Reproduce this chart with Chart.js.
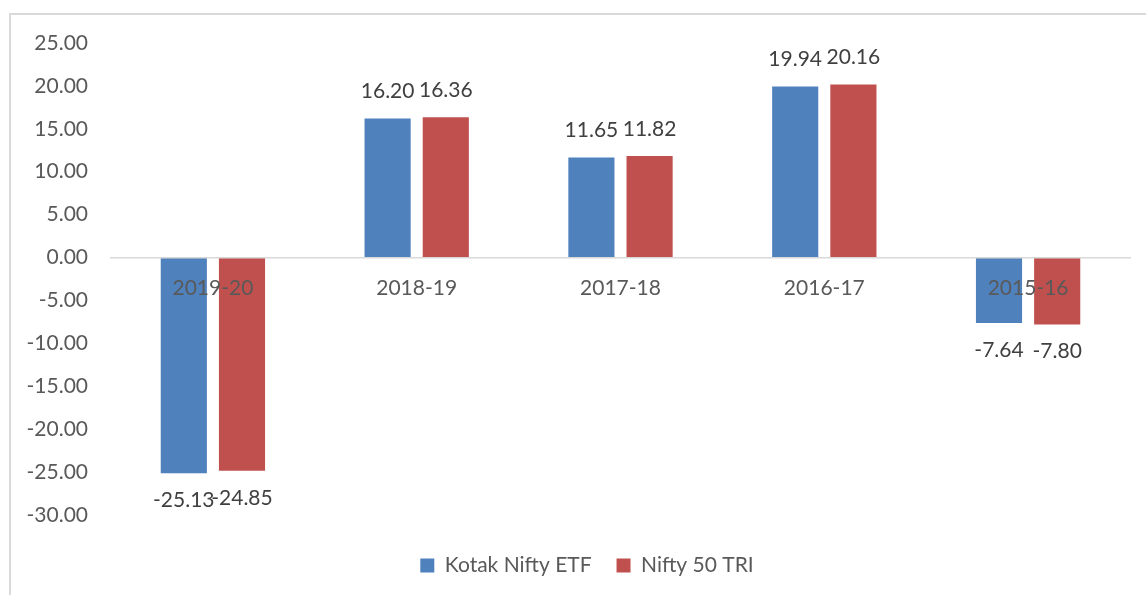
<!DOCTYPE html>
<html>
<head>
<meta charset="utf-8">
<script src="https://cdn.jsdelivr.net/npm/chart.js@4/dist/chart.umd.min.js"></script>
<style>
  html, body { margin: 0; padding: 0; background: #fff; }
  #wrap { width: 1146px; height: 595px; position: relative; }
</style>
</head>
<body>
<div id="wrap"><canvas id="chart" width="1146" height="595"></canvas></div>
<script>
// Dane wykresu
const years = ['2019-20', '2018-19', '2017-18', '2016-17', '2015-16'];
const kotakEtf = [-25.13, 16.20, 11.65, 19.94, -7.64];
const nifty50Tri = [-24.85, 16.36, 11.82, 20.16, -7.80];
const seriesNames = ['Kotak Nifty ETF', 'Nifty 50 TRI'];

const FONT = 'Lato, "Open Sans", sans-serif';

// Ramka wykresu (lewa i górna krawędź)
const framePlugin = {
  id: 'frame',
  beforeDraw(chart) {
    const ctx = chart.ctx;
    ctx.save();
    ctx.strokeStyle = '#d9d9d9';
    ctx.lineWidth = 2;
    ctx.beginPath();
    ctx.moveTo(10, chart.height);
    ctx.lineTo(10, 14);
    ctx.lineTo(chart.width, 14);
    ctx.stroke();
    ctx.restore();
  },
  // legenda lekko przesunięta w prawo, jak w oryginale
  afterLayout(chart) {
    if (chart.legend) {
      chart.legend.left += 17;
      chart.legend.right += 17;
    }
  }
};

// Etykiety wartości nad / pod słupkami
const valueLabels = {
  id: 'valueLabels',
  afterDatasetsDraw(chart) {
    const ctx = chart.ctx;
    ctx.save();
    ctx.font = '21px ' + FONT;
    ctx.fillStyle = '#404040';
    ctx.textAlign = 'center';
    ctx.textBaseline = 'middle';
    chart.data.datasets.forEach((ds, i) => {
      chart.getDatasetMeta(i).data.forEach((bar, j) => {
        const v = ds.data[j];
        const y = v >= 0 ? bar.y - 27 : bar.y + 27;
        ctx.fillText(v.toFixed(2), bar.x, y);
      });
    });
    ctx.restore();
  }
};

new Chart(document.getElementById('chart').getContext('2d'), {
  type: 'bar',
  data: {
    labels: years,
    datasets: [
      { label: seriesNames[0], data: kotakEtf, backgroundColor: '#4f81bd' },
      { label: seriesNames[1], data: nifty50Tri, backgroundColor: '#c0504d' }
    ]
  },
  options: {
    responsive: false,
    animation: false,
    devicePixelRatio: 1,
    categoryPercentage: 0.571,
    barPercentage: 0.793,
    layout: { padding: { left: 10, right: 16, top: 43, bottom: 9 } },
    plugins: {
      legend: {
        position: 'bottom',
        title: { display: true, text: ' ', font: { size: 10 }, padding: { top: 3, bottom: 0 } },
        labels: {
          font: { family: FONT, size: 21 },
          color: '#595959',
          boxWidth: 14,
          boxHeight: 14,
          padding: 25
        }
      },
      tooltip: { enabled: false }
    },
    scales: {
      x: {
        position: { y: 0 },
        grid: { display: false, drawTicks: false },
        border: { display: true, color: '#d9d9d9', width: 1.5, z: 1 },
        ticks: { font: { family: FONT, size: 21 }, color: '#595959', padding: 18, z: 2 }
      },
      y: {
        min: -30,
        max: 25,
        afterFit(scale) { scale.width = 101; },
        grid: { display: false, drawTicks: false },
        border: { display: false },
        ticks: {
          stepSize: 5,
          padding: 23,
          font: { family: FONT, size: 21 },
          color: '#595959',
          callback: v => v.toFixed(2)
        }
      }
    }
  },
  plugins: [framePlugin, valueLabels]
});
</script>
</body>
</html>
